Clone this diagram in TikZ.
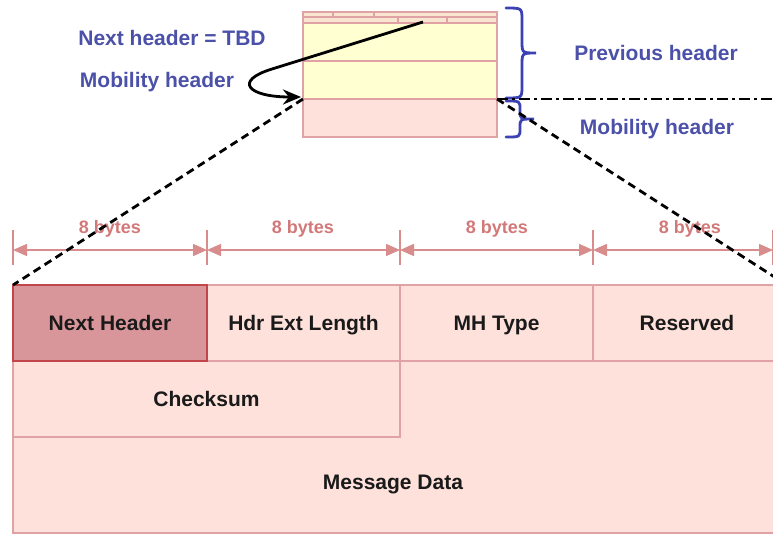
\documentclass[tikz,border=0pt]{standalone}
\usepackage{fontspec}
\setmainfont{Liberation Sans}
\usetikzlibrary{arrows.meta}

\definecolor{pinkFill}{HTML}{FDE1DA}
\definecolor{pinkLine}{HTML}{E0A2A4}
\definecolor{nhFill}{HTML}{D9969A}
\definecolor{nhLine}{HTML}{C0464C}
\definecolor{yellowFill}{HTML}{FFFFD2}
\definecolor{stripFill}{HTML}{F9E6D0}
\definecolor{dimRed}{HTML}{D27878}
\definecolor{blueText}{HTML}{4B50A8}
\definecolor{braceBlue}{HTML}{3C41B4}
\definecolor{inkBlack}{HTML}{1A1A1A}

\tikzset{
  x=1pt, y=1pt,
  cell/.style={draw=pinkLine, line width=2pt, rectangle, anchor=north west,
    inner sep=0pt, outer sep=0pt, text=inkBlack,
    font=\bfseries\fontsize{21}{25}\selectfont},
  field/.style={cell, fill=pinkFill},
  keyfield/.style={cell, fill=nhFill, draw=nhLine, line width=2.4pt},
  strip/.style={cell, fill=stripFill, line width=1.6pt},
  prevrow/.style={cell, fill=yellowFill},
  celltext/.style={inkBlack, font=\bfseries\fontsize{21}{25}\selectfont,
    text height=15pt, text depth=0pt, inner sep=0pt},
  bluelabel/.style={text=blueText, font=\bfseries\fontsize{21}{25}\selectfont,
    inner sep=0pt, text height=15pt, text depth=0pt},
  bytelabel/.style={text=dimRed, font=\bfseries\fontsize{18}{22}\selectfont,
    inner sep=0pt, text height=13pt, text depth=0pt},
  dimline/.style={draw=dimRed!85, line width=1.6pt, {Triangle[length=14pt,width=12pt]}-{Triangle[length=14pt,width=12pt]}},
  dimtick/.style={draw=dimRed!85, line width=1.6pt},
  bracepath/.style={draw=braceBlue, line width=2.8pt, line cap=round},
  zoomline/.style={draw=black, line width=2.8pt, dash pattern=on 8pt off 5pt},
  splitline/.style={draw=black, line width=2.8pt, dash pattern=on 11pt off 4pt on 3pt off 4pt},
  pointer/.style={draw=black, line width=2.8pt, -{Stealth[length=18pt,width=15pt]}}
}

\begin{document}
\begin{tikzpicture}
\useasboundingbox (0,0) rectangle (773,-535);
\clip (0,0) rectangle (773,-535);

% ---- stacked headers (top) ----
\node[strip, minimum width=194, minimum height=5] (s1) at (303,-12) {};
\node[strip, minimum width=194, minimum height=6] (s2) at (303,-17) {};
\node[prevrow, minimum width=194, minimum height=38] (p1) at (303,-23) {};
\node[prevrow, minimum width=194, minimum height=38] (p2) at (303,-61) {};
\node[field, minimum width=194, minimum height=38] (mob) at (303,-99) {};
\draw[draw=pinkLine, line width=1.6pt] (333,-12) -- (333,-17) (374,-12) -- (374,-17)
  (398,-17) -- (398,-23) (447,-17) -- (447,-23);

% ---- labels on the left ----
\node[bluelabel] (nhl) at (172,-38) {Next header = TBD};
\node[bluelabel] (mhl) at (157,-80) {Mobility header};

% ---- pointer from the next-header field to the mobility header ----
\coordinate (ptrStart) at (423,-22);
\coordinate (ptrBend) at (272,-69);
\draw[pointer] (ptrStart) -- (ptrBend) .. controls (233,-81) and (248,-97) .. ([xshift=-2pt,yshift=2pt]mob.north west);

% ---- braces and their labels ----
\draw[bracepath] (506,-8) .. controls (522,-8) .. (522,-20) -- (522,-41)
  .. controls (522,-53) .. (536,-53) .. controls (522,-53) .. (522,-65)
  -- (522,-86) .. controls (522,-98) .. (506,-98);
\draw[bracepath] (506,-101) .. controls (520,-101) .. (520,-109) -- (520,-111)
  .. controls (520,-119) .. (534,-119) .. controls (520,-119) .. (520,-127)
  -- (520,-129) .. controls (520,-137) .. (506,-137);
\node[bluelabel] (prevl) at (656,-53) {Previous header};
\node[bluelabel] (mobl) at (657,-127) {Mobility header};

% ---- dimension arrows ----
\coordinate (t0) at (13,-250);
\coordinate (t1) at (207,-250);
\coordinate (t2) at (400,-250);
\coordinate (t3) at (593,-250);
\coordinate (t4) at (773,-250);
\foreach \t in {t0,t1,t2,t3,t4}
  \draw[dimtick] ([yshift=20pt]\t) -- ([yshift=-15pt]\t);
\draw[dimline] (t0) -- (t1);
\draw[dimline] (t1) -- (t2);
\draw[dimline] (t2) -- (t3);
\draw[dimline] (t3) -- (t4);
\node[bytelabel] (b1) at (110,-227) {8 bytes};
\node[bytelabel] (b2) at (303,-227) {8 bytes};
\node[bytelabel] (b3) at (497,-227) {8 bytes};
\node[bytelabel] (b4) at (690,-227) {8 bytes};

% ---- mobility header fields ----
\node[field, minimum width=762, minimum height=172] (msg) at (13,-361) {};
\node[celltext] (msgt) at (393,-482) {Message Data};
\node[field, minimum width=387, minimum height=76] (csum) at (13,-361) {};
\node[field, minimum width=193, minimum height=76] (hel) at (207,-285) {};
\node[field, minimum width=193, minimum height=76] (mht) at (400,-285) {};
\node[field, minimum width=182, minimum height=76] (res) at (593,-285) {};
\node[keyfield, minimum width=194, minimum height=76] (nh) at (13,-285) {};
\node[celltext] at (csum.center) {Checksum};
\node[celltext] at (hel.center) {Hdr Ext Length};
\node[celltext] at (mht.center) {MH Type};
\node[celltext] at ([xshift=3pt]res.center) {Reserved};
\node[celltext] at (nh.center) {Next Header};

% ---- zoom lines and header boundary ----
\coordinate (farRight) at (790,-99);
\coordinate (zoomRight) at (787,-285);
\draw[splitline] (mob.north east) -- (farRight);
\draw[zoomline] (mob.north west) -- (nh.north west);
\draw[zoomline] (mob.north east) -- (zoomRight);
\end{tikzpicture}
\end{document}
